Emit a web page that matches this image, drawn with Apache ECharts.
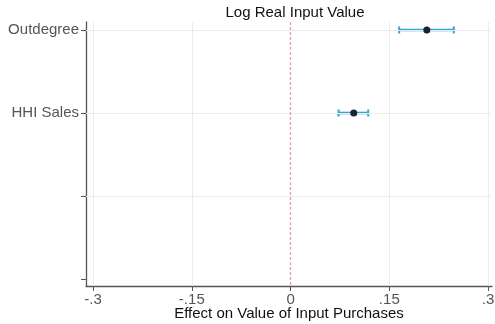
<!DOCTYPE html>
<html><head><meta charset="utf-8">
<script src="https://cdn.jsdelivr.net/npm/echarts@6/dist/echarts.min.js"></script>
<style>html,body{margin:0;padding:0;background:#fff}#c{width:495px;height:324px}</style>
</head><body><div id="c"></div>
<script>
const categories = ['Outdegree', 'HHI Sales', '', ''];
const estimates = [0.207, 0.096];
const lower = [0.165, 0.073];
const upper = [0.248, 0.118];
const xTicks = [-0.3, -0.15, 0, 0.15, 0.3];
const xTickLabels = ['-.3', '-.15', '0', '.15', '.3'];
const yTicks = [0, 1, 2, 3];

const chart = echarts.init(document.getElementById('c'), null, {renderer: 'canvas'});
const ciData = estimates.map((e, i) => [lower[i], upper[i], i]);
const ptData = estimates.map((e, i) => [e, i]);
const font = 'Arial, "Liberation Sans", sans-serif';
chart.setOption({
  animation: false,
  title: {
    text: 'Log Real Input Value', left: 290, top: 0, textAlign: 'center',
    textStyle: {fontFamily: font, fontSize: 15, fontWeight: 'normal', color: '#111'}
  },
  grid: {left: 86, right: 3, top: 22, bottom: 38, containLabel: false, outerBoundsMode: 'none'},
  xAxis: {
    type: 'value', min: -0.3107, max: 0.306,
    name: 'Effect on Value of Input Purchases', nameLocation: 'middle', nameGap: 20,
    nameMoveOverlap: false,
    nameTextStyle: {fontFamily: font, fontSize: 15, color: '#111', verticalAlign: 'top'},
    axisLine: {show: true, onZero: false, lineStyle: {color: '#555', width: 1.3}},
    axisTick: {show: true, customValues: xTicks, length: 5, lineStyle: {color: '#555'}},
    axisLabel: {customValues: xTicks, fontFamily: font, fontSize: 15, color: '#555', margin: 6,
      formatter: v => { const i = xTicks.findIndex(t => Math.abs(t - v) < 1e-6); return i >= 0 ? xTickLabels[i] : ''; }},
    splitLine: {show: false}
  },
  yAxis: {
    type: 'value', inverse: true, min: -0.096, max: 3.084,
    axisLine: {show: true, onZero: false, lineStyle: {color: '#555', width: 1.3}},
    axisTick: {show: true, customValues: yTicks, length: 5, lineStyle: {color: '#555'}},
    axisLabel: {customValues: yTicks, fontFamily: font, fontSize: 15, color: '#555', margin: 7,
      formatter: v => categories[Math.round(v)] || ''},
    splitLine: {show: false}
  },
  series: [
    {
      type: 'line', data: [], silent: true,
      markLine: {
        symbol: 'none', silent: true, label: {show: false},
        lineStyle: {color: '#ececec', width: 1, type: 'solid'},
        emphasis: {disabled: true},
        data: [
          ...xTicks.filter(t => t !== 0).map(t => ({xAxis: t})),
          ...yTicks.slice(0, 3).map(t => ({yAxis: t}))
        ]
      }
    },
    {
      type: 'line', data: [], silent: true,
      markLine: {
        symbol: 'none', silent: true, label: {show: false},
        lineStyle: {color: '#f39a9a', width: 1.3, type: [3, 2], opacity: 1},
        emphasis: {disabled: true},
        data: [{xAxis: 0}]
      }
    },
    {
      type: 'custom', data: ciData, z: 4,
      renderItem: (params, api) => {
        const y = api.value(2);
        const p1 = api.coord([api.value(0), y]);
        const p2 = api.coord([api.value(1), y]);
        const h = 3.5, w = 2.6;
        const fillSt = {fill: '#35a5d6', stroke: null};
        return {type: 'group', children: [
          {type: 'rect', shape: {x: p1[0], y: p1[1] - w / 2, width: p2[0] - p1[0], height: w}, style: fillSt},
          {type: 'rect', shape: {x: p1[0] - 1, y: p1[1] - h, width: 2, height: 2 * h}, style: fillSt},
          {type: 'rect', shape: {x: p2[0] - 1, y: p2[1] - h, width: 2, height: 2 * h}, style: fillSt}
        ]};
      },
      encode: {x: [0, 1], y: 2}
    },
    {
      type: 'scatter', data: ptData, symbolSize: 7, z: 5,
      itemStyle: {color: '#1a2330', opacity: 1}
    }
  ]
});
</script></body></html>
